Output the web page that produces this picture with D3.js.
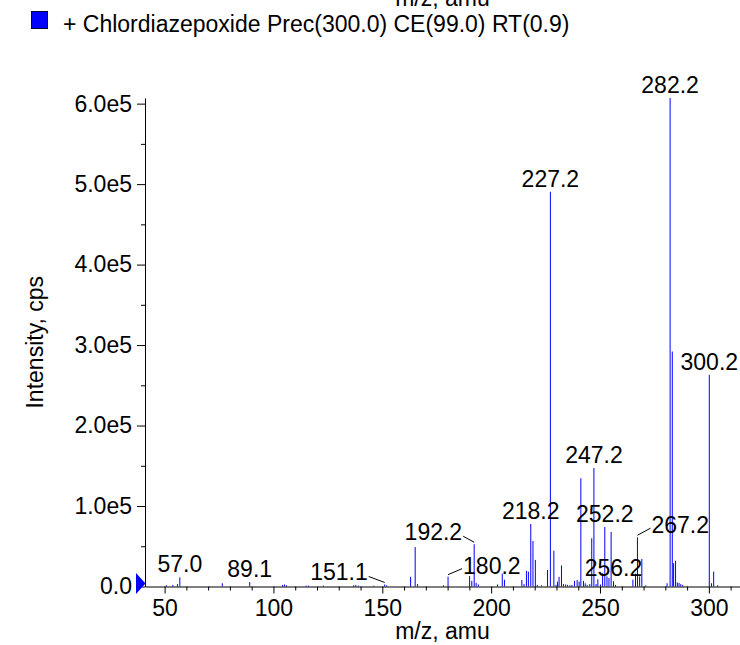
<!DOCTYPE html>
<html>
<head>
<meta charset="utf-8">
<script src="https://cdn.jsdelivr.net/npm/d3@7"></script>
<style>
  body { margin: 0; background: #fff; }
  svg { display: block; font-family: "Liberation Sans", Arial, Helvetica, sans-serif; }
</style>
</head>
<body>
<svg id="chart"></svg>
<script>
// product ion spectrum, m/z and intensity (cps)
const mz = [
  50.8, 53.8, 55.9, 57.0, 76.5, 89.1, 104.2, 105.1, 106.0, 115.0, 116.1, 122.9,
  136.8, 137.8, 139.0, 146.1, 151.1, 152.0, 163.0, 165.1, 166.2, 178.1, 180.2,
  190.1, 191.1, 192.2, 193.1, 194.1, 202.9, 205.1, 206.1, 214.1, 215.1, 216.2,
  217.1, 218.2, 219.2, 220.3, 221.2, 223.1, 225.9, 227.2, 228.8, 229.8, 230.5,
  231.2, 232.3, 233.2, 234.2, 235.1, 236.2, 237.1, 238.3, 239.5, 240.4, 241.2,
  242.4, 243.2, 244.1, 245.3, 246.2, 247.2, 248.2, 249.0, 250.2, 251.2, 252.2,
  253.2, 254.1, 255.1, 256.2, 257.1, 265.1, 266.3, 267.2, 268.2, 269.2, 271.0,
  280.8, 282.2, 283.2, 283.8, 284.7, 285.5, 286.3, 287.1, 288.0, 300.2, 301.2,
  302.2, 304.0
]
const intensity = [
  1500, 2000, 3000, 11400, 4000, 5500, 2000, 2500, 1500, 1200, 1000, 1200,
  1500, 2000, 1200, 1000, 2500, 1500, 12000, 49000, 3000, 1500, 12200,
  13000, 7000, 52500, 4500, 2500, 2500, 16000, 8500, 8000, 3000, 19500,
  18500, 77700, 56500, 33000, 2000, 1500, 20500, 490500, 44500, 2000, 6000,
  12000, 26000, 3000, 2500, 2000, 1500, 2000, 7000, 8000, 6000, 134500,
  7000, 4000, 2000, 3000, 60000, 147300, 3000, 9000, 2500, 16500, 74000,
  12500, 10500, 67800, 6500, 2000, 8500, 16000, 61200, 12500, 34200, 1500,
  4000, 607000, 292000, 29000, 32000, 5000, 4500, 3000, 2000, 263000, 4000,
  18500, 1500
]

// peaks that carry a label
const labeledPeaks = [57.0, 89.1, 151.1, 180.2, 192.2, 218.2, 227.2, 247.2, 252.2, 256.2, 267.2, 282.2, 300.2]

// axis ticks
const xTicks = [50, 100, 150, 200, 250, 300]
const xMinorTicks = [60, 70, 80, 90, 110, 120, 130, 140, 160, 170, 180, 190, 210, 220, 230, 240, 260, 270, 280, 290, 310]
const yTicks = [0, 1e5, 2e5, 3e5, 4e5, 5e5, 6e5]
const yTickLabels = ["0.0", "1.0e5", "2.0e5", "3.0e5", "4.0e5", "5.0e5", "6.0e5"]
const yMinorTicks = [0.5e5, 1.5e5, 2.5e5, 3.5e5, 4.5e5, 5.5e5]

const seriesName = "+ Chlordiazepoxide Prec(300.0) CE(99.0) RT(0.9)"

// labels that got pushed aside and need a leader line
const labelNudge = {
  "151.1": { dx: -17, dy: -4, anchor: "end" },
  "192.2": { dx: -12, dy: -4, anchor: "end" },
  "180.2": { dx: 15, dy: -3, anchor: "start" },
  "267.2": { dx: 14, dy: -4, anchor: "start" }
}

drawChart()

function drawChart() {
  let svgWidth = 740, svgHeight = 645
  let left = 145, right = 740, top = 98, bottom = 586.5
  let fontSize = 23

  let svg = d3.select("#chart")
    .attr("width", svgWidth)
    .attr("height", svgHeight)

  let x = d3.scaleLinear().domain([41, 314.3]).range([left, right])
  let y = d3.scaleLinear().domain([0, 6.07e5]).range([bottom, top])

  // clipped title of the panel above
  svg.append("text")
    .attr("x", (left + right) / 2)
    .attr("y", 6)
    .attr("text-anchor", "middle")
    .attr("font-size", fontSize)
    .text("m/z, amu")

  // legend
  svg.append("rect")
    .attr("x", 31.5).attr("y", 11.5)
    .attr("width", 16).attr("height", 17)
    .attr("fill", "#0000ff")
    .attr("stroke", "#000033")
  svg.append("text")
    .attr("x", 63).attr("y", 32)
    .attr("font-size", fontSize)
    .text(seriesName)

  // peaks
  let peaks = mz.map(function(m, i) { return { mz: m, value: intensity[i] } })
  svg.append("g")
    .attr("class", "peaks")
    .selectAll("line")
    .data(peaks)
    .join("line")
    .attr("x1", function(d) { return x(d.mz) })
    .attr("x2", function(d) { return x(d.mz) })
    .attr("y1", y(0))
    .attr("y2", function(d) { return y(d.value) })
    .attr("stroke", "#0000ff")
    .attr("stroke-width", 1)

  // x axis
  svg.append("g")
    .attr("transform", "translate(0," + bottom + ")")
    .call(d3.axisBottom(x).tickValues(xTicks).tickSize(7).tickSizeOuter(0).tickPadding(6.5).tickFormat(d3.format("d")))
  svg.append("g")
    .attr("transform", "translate(0," + bottom + ")")
    .call(d3.axisBottom(x).tickValues(xMinorTicks).tickSize(4).tickFormat(""))
    .select(".domain").remove()

  // y axis
  svg.append("g")
    .attr("transform", "translate(" + left + ",0)")
    .call(d3.axisLeft(y).tickValues(yTicks).tickSize(8).tickSizeOuter(0).tickPadding(5)
      .tickFormat(function(d, i) { return yTickLabels[i] }))
  svg.append("g")
    .attr("transform", "translate(" + left + ",0)")
    .call(d3.axisLeft(y).tickValues(yMinorTicks).tickSize(4).tickFormat(""))
    .select(".domain").remove()

  svg.selectAll(".tick text")
    .attr("font-size", fontSize)
    .attr("fill", "#000")
  svg.selectAll(".domain, .tick line").attr("stroke", "#000")
  svg.selectAll("g").attr("font-family", null)

  // zero marker on the y axis
  svg.append("path")
    .attr("d", "M" + (left - 9) + "," + (y(0) - 13.5) + "L" + (left + 0.5) + "," + (y(0) - 3) + "L" + (left - 9) + "," + (y(0) + 7.5) + "Z")
    .attr("fill", "#0000ff")

  // axis titles
  svg.append("text")
    .attr("x", (left + right) / 2)
    .attr("y", 639)
    .attr("text-anchor", "middle")
    .attr("font-size", fontSize)
    .text("m/z, amu")
  svg.append("text")
    .attr("transform", "translate(43," + (top + bottom) / 2 + ") rotate(-90)")
    .attr("text-anchor", "middle")
    .attr("font-size", fontSize)
    .text("Intensity, cps")

  // peak labels
  let labels = svg.append("g")
  labeledPeaks.forEach(function(m) {
    let i = mz.indexOf(m)
    let cx = x(m), cy = y(intensity[i])
    let name = m.toFixed(1)
    let nudge = labelNudge[name]
    if (!nudge) {
      labels.append("text")
        .attr("x", cx).attr("y", cy - 5)
        .attr("text-anchor", "middle")
        .attr("font-size", fontSize)
        .text(name)
      return
    }
    let tx = cx + nudge.dx, ty = cy + nudge.dy
    labels.append("text")
      .attr("x", tx).attr("y", ty)
      .attr("text-anchor", nudge.anchor)
      .attr("font-size", fontSize)
      .text(name)
    let lx = nudge.anchor == "end" ? tx + 1 : tx - 1
    let ly = nudge.anchor == "end" ? ty - 4 : ty - 5
    labels.append("line")
      .attr("x1", lx).attr("y1", ly)
      .attr("x2", cx).attr("y2", cy - 2)
      .attr("stroke", "#000")
      .attr("stroke-width", 1)
  })
}
</script>
</body>
</html>
